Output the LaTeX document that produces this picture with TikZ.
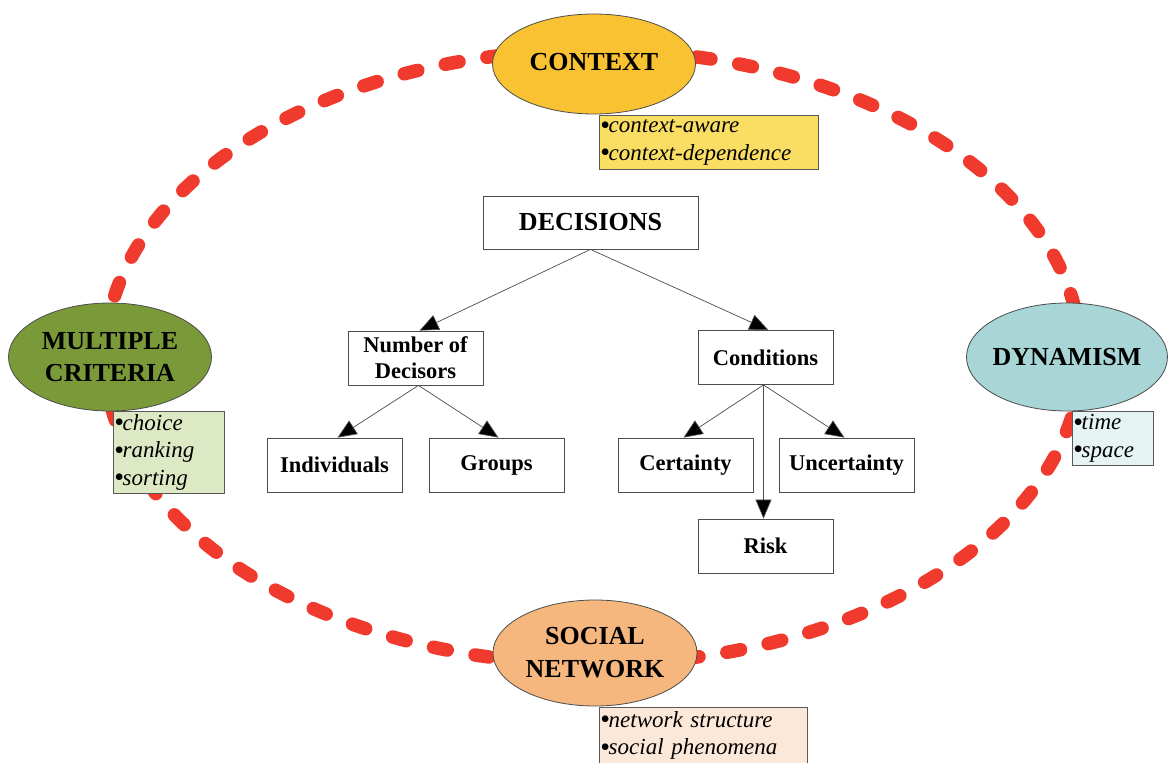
\documentclass[tikz,border=0pt]{standalone}
\usepackage{fontspec}
\setmainfont{Liberation Serif}
\usetikzlibrary{arrows.meta,shapes.geometric}

\definecolor{loopred}{HTML}{F03A2D}
\definecolor{ctxfill}{HTML}{F8C232}
\definecolor{ctxlist}{HTML}{FADE64}
\definecolor{mcfill}{HTML}{7A9A3A}
\definecolor{mclist}{HTML}{DDE8C4}
\definecolor{dynfill}{HTML}{A8D6D6}
\definecolor{dynlist}{HTML}{E6F3F3}
\definecolor{socfill}{HTML}{F5B77E}
\definecolor{soclist}{HTML}{FCE8D8}

% large list bullet set tight against its item
\newcommand{\itm}{\smash{\raisebox{-1.5pt}{\fontsize{28}{28}\selectfont\upshape\textbullet}}\hspace{-1.5pt}}

\begin{document}
\begin{tikzpicture}[x=1pt,y=-1pt,
  topic/.style={ellipse, draw=black!70, line width=0.8pt, inner sep=0pt,
    font=\fontsize{26}{32}\selectfont\bfseries, align=center},
  itembox/.style={rectangle, draw=black!65, line width=0.8pt, anchor=north west,
    inner xsep=1pt, inner ysep=0pt, align=left,
    font=\fontsize{23}{27.5}\selectfont\itshape},
  catbox/.style={rectangle, draw=black!70, line width=0.8pt, fill=white,
    minimum width=135pt, minimum height=54pt, inner sep=0pt, align=center,
    font=\fontsize{22.5}{26}\selectfont\bfseries},
  link/.style={draw=black!70, line width=0.7pt,
    -{Triangle[length=19pt,width=16pt,fill=black]}},
]
\useasboundingbox (0,0) rectangle (1168,763);
\fill[white] (0,0) rectangle (1168,763);

% red dashed ring linking the four aspects
\draw[loopred, line width=13.5pt, line cap=round,
      dash pattern=on 14pt off 28.17pt, dash phase=34pt]
  (593,357) ellipse [x radius=488pt, y radius=307pt];

% the four aspects
\node[topic, fill=ctxfill, minimum width=203pt, minimum height=100pt]
  (ctx) at (594,64) {\raisebox{4pt}{CONTEXT}};
\node[topic, fill=mcfill, minimum width=203pt, minimum height=108pt]
  (mc) at (110,357) {MULTIPLE\\CRITERIA};
\node[topic, fill=dynfill, minimum width=201pt, minimum height=108pt]
  (dyn) at (1067,357) {\makebox[0pt]{DYNAMISM}};
\node[topic, fill=socfill, minimum width=204pt, minimum height=106pt,
  font=\fontsize{26}{33}\selectfont\bfseries]
  (soc) at (595,653) {SOCIAL\\NETWORK};

% item lists attached to each aspect
\node[itembox, fill=ctxlist, text width=217pt, minimum height=54pt]
  (ctxl) at (599,115) {\itm context-aware\\\itm context-dependence};
\node[itembox, fill=mclist, text width=109pt, minimum height=82pt]
  (mcl) at (113,411) {\itm choice\\\itm ranking\\\itm sorting};
\node[itembox, fill=dynlist, text width=79pt, minimum height=54pt]
  (dynl) at (1072,411) {\itm time\\\itm space};
\node[itembox, fill=soclist, text width=206pt, minimum height=56pt]
  (socl) at (599,707) {\itm network structure\\\itm social phenomena};

% decision tree
\node[catbox, minimum width=215pt, minimum height=53pt,
  font=\fontsize{26}{32}\selectfont\bfseries] (dec) at (590.5,222.5) {DECISIONS};
\node[catbox] (nod)  at (415.5,358) {Number of\\Decisors};
\node[catbox] (cond) at (765.5,357.5) {Conditions};
\node[catbox] (ind)  at (334.5,465) {Individuals};
\node[catbox] (grp)  at (496.5,465) {Groups};
\node[catbox] (cert) at (685.5,465) {Certainty};
\node[catbox] (unc)  at (846.5,465) {Uncertainty};
\node[catbox] (risk) at (765.5,546) {Risk};

\draw[link] (dec.south) -- ([xshift=4pt]nod.north);
\draw[link] (dec.south) -- ([xshift=3pt]cond.north);
\draw[link] ([xshift=3pt]nod.south) -- ([xshift=3pt]ind.north);
\draw[link] ([xshift=3pt]nod.south) -- ([xshift=2pt]grp.north);
\draw[link] ([xshift=-2pt]cond.south) -- ([xshift=-2pt]cert.north);
\draw[link] ([xshift=-2pt]cond.south) -- ([xshift=-2pt]unc.north);
\draw[link] ([xshift=-2pt]cond.south) -- ([xshift=-2pt]risk.north);
\end{tikzpicture}
\end{document}
